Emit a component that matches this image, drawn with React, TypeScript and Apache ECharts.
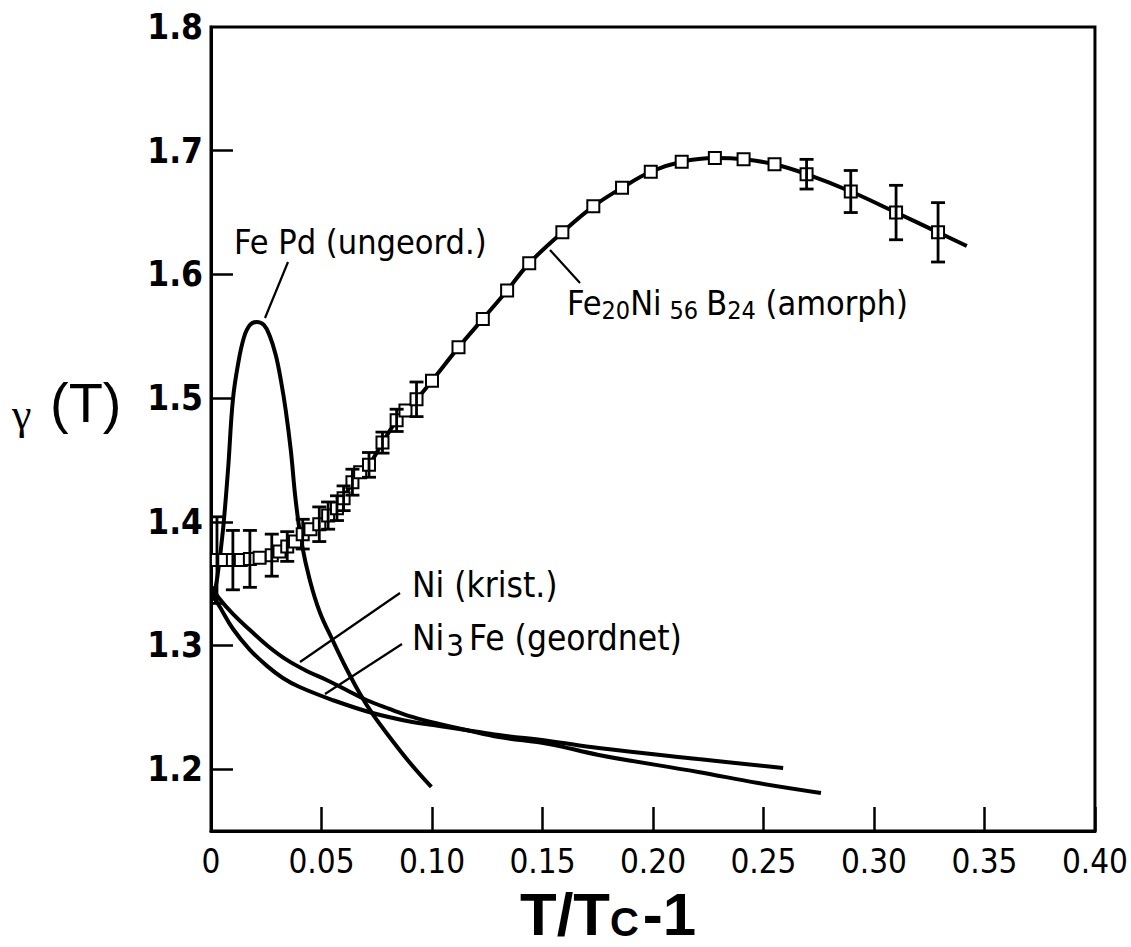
import React, { useEffect, useRef } from "react";
import * as echarts from "echarts";

// ---- axis ticks ----
const xTickValues = [0, 0.05, 0.1, 0.15, 0.2, 0.25, 0.3, 0.35, 0.4];
const yLabelValues = [1.2, 1.3, 1.4, 1.5, 1.6, 1.7, 1.8];
const yTickValues = [1.2, 1.3, 1.4, 1.5, 1.6, 1.7];

// ---- Fe20Ni56B24 (amorph): [x, y, error] ----
const feNiBPoints: [number, number, number][] = [
  [0.0027, 1.369, 0.035],
  [0.006, 1.369, 0],
  [0.0099, 1.369, 0.024],
  [0.0135, 1.369, 0],
  [0.0176, 1.37, 0.023],
  [0.022, 1.371, 0],
  [0.0275, 1.373, 0.017],
  [0.031, 1.376, 0],
  [0.0345, 1.38, 0.012],
  [0.038, 1.384, 0],
  [0.0415, 1.39, 0.012],
  [0.045, 1.394, 0],
  [0.049, 1.398, 0.014],
  [0.053, 1.405, 0.011],
  [0.057, 1.411, 0.01],
  [0.06, 1.419, 0.01],
  [0.064, 1.432, 0.0105],
  [0.0675, 1.44, 0],
  [0.0715, 1.446, 0.01],
  [0.0776, 1.464, 0.0085],
  [0.084, 1.482, 0.009],
  [0.088, 1.49, 0],
  [0.093, 1.499, 0.014],
  [0.1, 1.514, 0],
  [0.112, 1.541, 0],
  [0.123, 1.564, 0],
  [0.134, 1.587, 0],
  [0.144, 1.609, 0],
  [0.159, 1.634, 0],
  [0.173, 1.655, 0],
  [0.186, 1.67, 0],
  [0.199, 1.683, 0],
  [0.213, 1.691, 0],
  [0.228, 1.694, 0],
  [0.241, 1.693, 0],
  [0.255, 1.689, 0],
  [0.2695, 1.681, 0.012],
  [0.2895, 1.667, 0.017],
  [0.31, 1.65, 0.022],
  [0.329, 1.634, 0.024],
];
const feNiBLineStart: [number, number] = [0.0005, 1.369];
const feNiBLineEnd: [number, number] = [0.342, 1.623];

// ---- Fe Pd (ungeord.) ----
const fePdCurve: [number, number][] = [
  [0.001, 1.337],
  [0.003, 1.357],
  [0.0054, 1.393],
  [0.0077, 1.442],
  [0.0099, 1.4985],
  [0.0122, 1.527],
  [0.0149, 1.549],
  [0.0176, 1.559],
  [0.0207, 1.5615],
  [0.0239, 1.5591],
  [0.0266, 1.5502],
  [0.0293, 1.5348],
  [0.0316, 1.5146],
  [0.0338, 1.4904],
  [0.0361, 1.458],
  [0.0383, 1.4176],
  [0.041, 1.3829],
  [0.0447, 1.353],
  [0.0492, 1.3271],
  [0.055, 1.3044],
  [0.0609, 1.2826],
  [0.0672, 1.2616],
  [0.0731, 1.2446],
  [0.0794, 1.2293],
  [0.0897, 1.2058],
  [0.0997, 1.1856],
];

// ---- Ni (krist.) ----
const niCurve: [number, number][] = [
  [0.0005, 1.3473],
  [0.0032, 1.3392],
  [0.0099, 1.3255],
  [0.0176, 1.3125],
  [0.0257, 1.2996],
  [0.0343, 1.2883],
  [0.0433, 1.2794],
  [0.0523, 1.2721],
  [0.0613, 1.264],
  [0.0703, 1.2559],
  [0.0807, 1.2487],
  [0.0911, 1.2422],
  [0.1033, 1.2365],
  [0.1154, 1.2317],
  [0.1303, 1.226],
  [0.1529, 1.2204],
  [0.1754, 1.2115],
  [0.2205, 1.1977],
  [0.2476, 1.1888],
  [0.276, 1.1808],
];

// ---- Ni3 Fe (geordnet) ----
const ni3FeCurve: [number, number][] = [
  [0.0005, 1.34],
  [0.0032, 1.3335],
  [0.0099, 1.3135],
  [0.0176, 1.2965],
  [0.0253, 1.2835],
  [0.0325, 1.2737],
  [0.0401, 1.2664],
  [0.055, 1.2559],
  [0.0731, 1.2454],
  [0.0911, 1.2381],
  [0.1033, 1.2349],
  [0.1154, 1.2317],
  [0.1303, 1.2276],
  [0.1529, 1.2228],
  [0.1754, 1.2171],
  [0.2205, 1.2082],
  [0.2589, 1.201],
];

const NARROW = "'Liberation Sans Narrow', 'DejaVu Sans Condensed', 'Liberation Sans', sans-serif";
const WIDE = "'Liberation Sans', Arial, sans-serif";

export default function App() {
  const ref = useRef<HTMLDivElement>(null);

  useEffect(() => {
    if (!ref.current) return;
    const chart = echarts.init(ref.current, null, { renderer: "svg" });

    const lineData = [feNiBLineStart, ...feNiBPoints.map((p) => [p[0], p[1]]), feNiBLineEnd];
    const markerData = feNiBPoints.map((p) => [p[0], p[1]]);
    const errData = feNiBPoints.filter((p) => p[2] > 0);

    const lineStyleThick = { color: "#000", width: 4 };
    const lbl = (text: string, x: number, y: number, size = 36) => ({
      type: "text",
      x,
      y,
      style: {
        text,
        fontSize: size,
        fontFamily: NARROW,
        fill: "#000",
        verticalAlign: "middle",
        align: "left",
      },
    });
    const leader = (x1: number, y1: number, x2: number, y2: number) => ({
      type: "line",
      shape: { x1, y1, x2, y2 },
      style: { stroke: "#000", lineWidth: 2.2 },
    });

    chart.setOption({
      animation: false,
      backgroundColor: "#fff",
      grid: {
        left: 211,
        right: 33,
        top: 27,
        bottom: 116,
        show: true,
        borderColor: "#000",
        borderWidth: 3,
        backgroundColor: "transparent",
      },
      xAxis: {
        type: "value",
        min: 0,
        max: 0.4,
        interval: 0.05,
        splitLine: { show: false },
        axisLine: { show: true, lineStyle: { color: "#000", width: 3 } },
        axisTick: { show: true, inside: true, length: 24, lineStyle: { color: "#000", width: 2.5 } },
        axisLabel: {
          margin: 14,
          color: "#000",
          fontSize: 33,
          lineHeight: 33,
          fontFamily: NARROW,
          formatter: (v: number) => (v === 0 ? "0" : v.toFixed(2)),
          customValues: xTickValues,
        },
      },
      yAxis: {
        type: "value",
        min: 1.15,
        max: 1.8,
        splitLine: { show: false },
        axisLine: { show: true, lineStyle: { color: "#000", width: 3 } },
        axisTick: {
          show: true,
          inside: true,
          length: 22,
          lineStyle: { color: "#000", width: 2.5 },
          customValues: yTickValues,
        },
        axisLabel: {
          margin: 8,
          color: "#000",
          fontSize: 35,
          fontWeight: "bold",
          fontFamily: NARROW,
          formatter: (v: number) => v.toFixed(1),
          customValues: yLabelValues,
        },
      },
      series: [
        { type: "line", data: fePdCurve, smooth: 0.4, showSymbol: false, lineStyle: lineStyleThick, z: 2 },
        { type: "line", data: niCurve, smooth: 0.4, showSymbol: false, lineStyle: lineStyleThick, z: 2 },
        { type: "line", data: ni3FeCurve, smooth: 0.4, showSymbol: false, lineStyle: lineStyleThick, z: 2 },
        { type: "line", data: lineData, smooth: 0.4, showSymbol: false, lineStyle: lineStyleThick, z: 2 },
        {
          type: "scatter",
          data: markerData,
          symbol: "rect",
          symbolSize: 12,
          itemStyle: { color: "#fff", borderColor: "#000", borderWidth: 2, opacity: 1 },
          z: 3,
        },
        {
          type: "custom",
          data: errData,
          encode: { x: 0, y: 1 },
          z: 4,
          renderItem: (params: any, api: any) => {
            const x = api.value(0);
            const y = api.value(1);
            const e = api.value(2);
            const top = api.coord([x, y + e]);
            const bot = api.coord([x, y - e]);
            const hw = 7;
            const st = { stroke: "#000", lineWidth: 2.8 };
            return {
              type: "group",
              children: [
                { type: "line", shape: { x1: top[0], y1: top[1], x2: bot[0], y2: bot[1] }, style: st },
                { type: "line", shape: { x1: top[0] - hw, y1: top[1], x2: top[0] + hw, y2: top[1] }, style: st },
                { type: "line", shape: { x1: bot[0] - hw, y1: bot[1], x2: bot[0] + hw, y2: bot[1] }, style: st },
              ],
            };
          },
        },
      ],
      graphic: [
        // y axis name
        {
          type: "text",
          x: 12,
          y: 414,
          style: {
            text: "γ",
            fontSize: 44,
            fontFamily: "'Liberation Serif', 'DejaVu Serif', serif",
            fill: "#000",
            verticalAlign: "middle",
          },
        },
        {
          type: "text",
          x: 50,
          y: 402,
          style: {
            text: "(T)",
            fontSize: 56,
            fontFamily: WIDE,
            fill: "#000",
            verticalAlign: "middle",
          },
        },
        // x axis name
        {
          type: "text",
          x: 520,
          y: 914,
          style: {
            text: "T/T{c|C}-1",
            fontSize: 60,
            lineHeight: 56,
            fontWeight: "bold",
            fontFamily: WIDE,
            fill: "#000",
            verticalAlign: "middle",
            align: "left",
            rich: {
              c: {
                fontSize: 40,
                lineHeight: 40,
                fontWeight: "bold",
                fontFamily: WIDE,
                fill: "#000",
                verticalAlign: "bottom",
                padding: [10, 4, 0, 0],
              },
            },
          },
        },
        // Fe Pd label
        lbl("Fe Pd (ungeord.)", 234, 242, 34),
        leader(288, 262, 265, 318),
        // Fe20Ni56B24 label
        {
          type: "text",
          x: 567,
          y: 303,
          style: {
            text: "Fe{s|20}Ni{t|56}{u|B}{s|24} (amorph)",
            fontSize: 34,
            fontFamily: NARROW,
            fill: "#000",
            verticalAlign: "middle",
            align: "left",
            rich: {
              s: {
                fontSize: 25,
                fontFamily: NARROW,
                fill: "#000",
                verticalAlign: "bottom",
                padding: [14, 0, 0, 0],
              },
              t: {
                fontSize: 25,
                fontFamily: NARROW,
                fill: "#000",
                verticalAlign: "bottom",
                padding: [14, 0, 0, 8],
              },
              u: {
                fontSize: 34,
                fontFamily: NARROW,
                fill: "#000",
                padding: [0, 0, 0, 8],
              },
            },
          },
        },
        leader(550, 250, 580, 283),
        // Ni labels
        lbl("Ni (krist.)", 412, 585, 35),
        leader(400, 593, 300, 662),
        {
          type: "text",
          x: 412,
          y: 638,
          style: {
            text: "Ni{s|3}Fe (geordnet)",
            fontSize: 35,
            fontFamily: NARROW,
            fill: "#000",
            verticalAlign: "middle",
            align: "left",
            rich: {
              s: {
                fontSize: 31,
                fontFamily: NARROW,
                fill: "#000",
                verticalAlign: "bottom",
                padding: [14, 5, 0, 2],
              },
            },
          },
        },
        leader(402, 644, 325, 694),
      ],
    });

    return () => chart.dispose();
  }, []);

  return (
    <div
      ref={ref}
      style={{ position: "fixed", left: 0, top: 0, width: 1131, height: 947, background: "#fff" }}
    />
  );
}
